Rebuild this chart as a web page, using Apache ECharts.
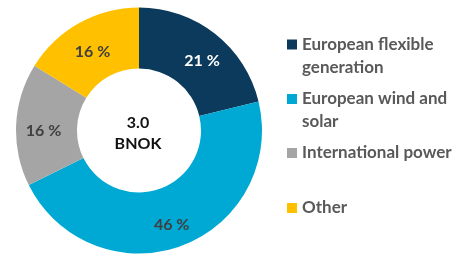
<!DOCTYPE html>
<html>
<head>
<meta charset="utf-8">
<script src="https://cdn.jsdelivr.net/npm/echarts@6/dist/echarts.min.js"></script>
<style>
  html, body { margin: 0; padding: 0; background: #fff; }
  #chart { width: 468px; height: 255px; }
</style>
</head>
<body>
<div id="chart"></div>
<script>
// segment data
const segments = ["European flexible\ngeneration", "European wind and\nsolar", "International power", "Other"];
const shares = [21, 46, 16, 16];
const colors = ["#0b3a5c", "#00a8d4", "#a5a5a5", "#ffc000"];
const labelColors = ["#ffffff", "#404040", "#404040", "#404040"];
const centerText = "3.0\nBNOK";

const chart = echarts.init(document.getElementById("chart"));

// one legend per item; icon lines up with the first text line like the source
const firstLineY = [39.5, 94, 148, 203];
const legends = segments.map((name, i) => {
  const twoLines = name.indexOf("\n") >= 0;
  return {
    data: [name],
    left: 282,
    top: firstLineY[i] - (twoLines ? 34.5 : 11.5),
    orient: "vertical",
    icon: "rect",
    itemWidth: 10,
    itemHeight: 10,
    selectedMode: false,
    // a blank leading line keeps the square beside the first line
    formatter: (n) => (twoLines ? " \n" + n : n),
    textStyle: {
      color: "#595959",
      fontFamily: "Lato",
      fontWeight: "bold",
      fontSize: 17,
      lineHeight: 23,
    },
  };
});

const option = {
  animation: false,
  legend: legends,
  series: [
    {
      type: "pie",
      center: [139, 130.5],
      radius: [62, 123],
      startAngle: 90,
      clockwise: true,
      data: segments.map((name, i) => ({
        name,
        value: shares[i],
        itemStyle: { color: colors[i] },
        label: { color: labelColors[i] },
      })),
      itemStyle: { borderWidth: 0 },
      label: {
        position: "inside",
        formatter: (p) => p.value + " %",
        fontFamily: "Lato",
        fontWeight: "bold",
        fontSize: 16,
      },
      // small nudge, the source puts its labels a bit lower
      labelLayout: (p) => ({ dx: p.dataIndex === 0 ? 4 : 0, dy: 5 }),
      labelLine: { show: false },
      emphasis: { disabled: true },
    },
  ],
  graphic: [
    {
      type: "text",
      x: 138,
      y: 133,
      style: {
        text: centerText,
        align: "center",
        verticalAlign: "middle",
        fill: "#111",
        font: "bold 16px Lato",
        lineHeight: 21,
      },
    },
  ],
};

chart.setOption(option);
</script>
</body>
</html>
